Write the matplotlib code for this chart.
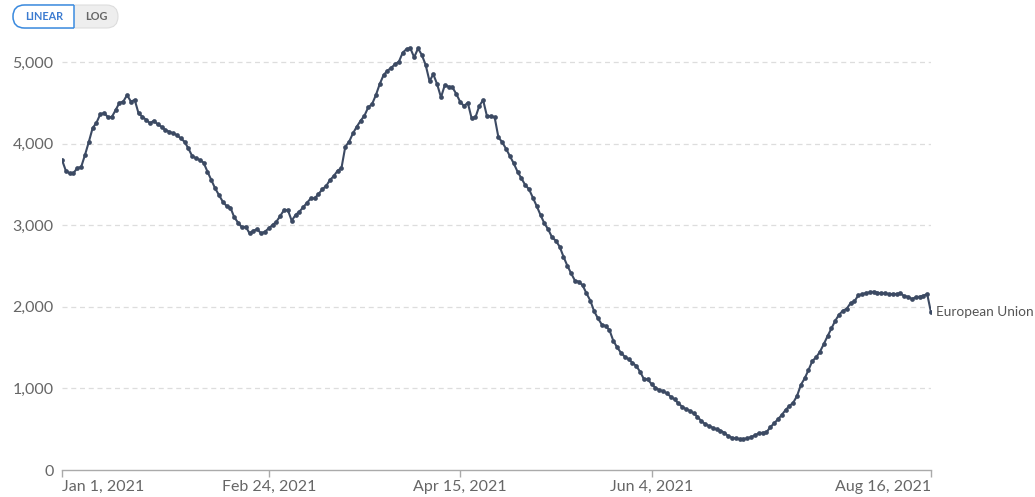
# European Union daily series, Jan 1 - Aug 16 2021, recreated as a line chart

import numpy as np
import pandas as pd
import matplotlib as mpl
mpl.use('Agg')
import matplotlib.pyplot as plt
from matplotlib.patches import FancyBboxPatch, Rectangle

plt.rcParams['font.family'] = ['Lato', 'DejaVu Sans']

START_DATE = '2021-01-01'
SERIES_NAME = 'European Union'

values = [
    3800, 3668, 3636, 3640, 3700, 3713, 3860, 4020, 4190, 4256,
    4360, 4375, 4325, 4325, 4410, 4500, 4515, 4595, 4515, 4535,
    4370, 4330, 4290, 4250, 4280, 4236, 4207, 4167, 4146, 4126,
    4105, 4065, 4023, 3942, 3848, 3820, 3800, 3766, 3656, 3554,
    3452, 3370, 3288, 3235, 3215,
    3097, 3031, 2974, 2982, 2900, 2933, 2950, 2900, 2920, 2962,
    3002, 3043, 3113, 3186, 3186, 3055, 3125, 3166, 3219, 3276,
    3329, 3329, 3382, 3440, 3480, 3554, 3603, 3668, 3700, 3962,
    4023, 4126,
    4207, 4280, 4342, 4445, 4485, 4595, 4730, 4840, 4893, 4930,
    4972, 5004, 5114, 5159, 5167, 5057, 5167, 5086, 4963, 4767,
    4849, 4727, 4567, 4718, 4697, 4689, 4608, 4513, 4461, 4501,
    4310, 4322, 4461, 4534, 4338, 4334, 4326, 4077, 4017, 3936,
    3848,
    3758, 3656, 3574, 3493, 3440, 3337, 3235, 3125, 3023, 2950,
    2852, 2810, 2737, 2614, 2504, 2410, 2320, 2308, 2263, 2165,
    2077, 1946, 1859, 1783, 1765, 1716, 1585, 1504,
    1438, 1389, 1357, 1315, 1275, 1205, 1115, 1111, 1054, 1009,
    980, 968, 940, 899, 866, 817, 776, 744, 727, 694,
    653, 600, 564, 539, 519, 498, 482, 457, 417, 396,
    388, 380, 380, 388, 405, 425, 450, 457, 462,
    523, 572, 621, 674, 735, 784, 825, 907, 1042, 1123,
    1225, 1336, 1381, 1450, 1544, 1642, 1736, 1830, 1905, 1952,
    1977, 2046, 2067, 2140, 2155, 2169, 2177, 2185, 2173, 2165,
    2165, 2157, 2157, 2157, 2165, 2132, 2124, 2096, 2116, 2124,
    2136, 2157, 1932,
]

tick_dates = ['2021-01-01', '2021-02-24', '2021-04-15', '2021-06-04', '2021-08-16']
tick_labels = ['Jan 1, 2021', 'Feb 24, 2021', 'Apr 15, 2021', 'Jun 4, 2021', 'Aug 16, 2021']
y_ticks = [0, 1000, 2000, 3000, 4000, 5000]
y_labels = ['0', '1,000', '2,000', '3,000', '4,000', '5,000']

LINE_COLOR = '#3c4a63'
TEXT_COLOR = '#666666'

dates = pd.date_range(START_DATE, periods=len(values), freq='D')
start = pd.Timestamp(START_DATE)
x = np.array([(d - start).days for d in dates])
tick_x = [(pd.Timestamp(d) - start).days for d in tick_dates]

W, H = 1035, 497
fig = plt.figure(figsize=(W / 100, H / 100), dpi=100)
ax = fig.add_axes([62 / W, 27 / H, (931 - 62) / W, (470 - 40) / H])

ax.plot(x, values, color=LINE_COLOR, lw=1.5, marker='o', ms=3.4,
        markerfacecolor=LINE_COLOR, markeredgewidth=0, zorder=3)

ax.set_xlim(x[0], x[-1])
ax.set_ylim(0, 5000 * 430 / 408)

for yv in y_ticks[1:]:
    ax.axhline(yv, color='#dddddd', lw=0.9, ls=(0, (4, 3)), zorder=1)

for s in ['top', 'right', 'left']:
    ax.spines[s].set_visible(False)
ax.spines['bottom'].set_color('#aaaaaa')
ax.spines['bottom'].set_linewidth(1.0)

ax.set_yticks(y_ticks)
ax.set_yticklabels(y_labels)
ax.tick_params(axis='y', length=0, pad=6, labelsize=11.5, labelcolor=TEXT_COLOR)
ax.set_xticks(tick_x)
ax.set_xticklabels(tick_labels)
ax.tick_params(axis='x', length=5, width=1, color='#aaaaaa', pad=2,
               labelsize=11.5, labelcolor=TEXT_COLOR)
xt = ax.get_xticklabels()
xt[0].set_ha('left')
xt[-1].set_ha('right')

# series label at the end of the line
ax.annotate(SERIES_NAME, xy=(x[-1], values[-1]), xytext=(3.5, 0),
            textcoords='offset points', va='center', ha='left',
            fontsize=9.8, color='#555555', annotation_clip=False)

# LINEAR / LOG toggle, drawn in pixel coordinates
ui = fig.add_axes([0, 0, 1, 1], zorder=5)
ui.set_xlim(0, W)
ui.set_ylim(H, 0)
ui.axis('off')
pill = FancyBboxPatch((13, 5), 105, 23, boxstyle='round,pad=0,rounding_size=11.5',
                      fc='#eeeeee', ec='#dddddd', lw=0.8)
ui.add_patch(pill)
lin = FancyBboxPatch((13, 5), 80, 23, boxstyle='round,pad=0,rounding_size=11.5',
                     fc='white', ec='#3b8be0', lw=1.1)
ui.add_patch(lin)
lin.set_clip_path(Rectangle((12, 3), 62, 27, transform=ui.transData))
ui.plot([74, 74], [5, 28], color='#3b8be0', lw=1.1, solid_capstyle='butt')
ui.text(44, 16.8, 'LINEAR', ha='center', va='center', fontsize=7.8,
        color='#3b7bd0', fontweight='bold')
ui.text(96, 16.8, 'LOG', ha='center', va='center', fontsize=7.8,
        color='#666666', fontweight='bold')

fig.savefig('out.png', dpi=100)
